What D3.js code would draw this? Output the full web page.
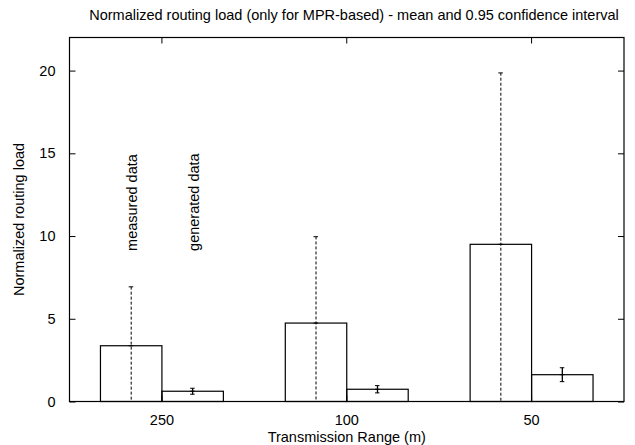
<!DOCTYPE html>
<html>
<head>
<meta charset="utf-8">
<script src="https://cdn.jsdelivr.net/npm/d3@7"></script>
<style>
  body { margin: 0; background: #fff; }
  text { font-family: "Liberation Sans", Arial, Helvetica, sans-serif; }
</style>
</head>
<body>
<div id="chart"></div>
<script>
// ranges on the x axis and the two series
const ranges = ["250", "100", "50"];
const seriesKeys = ["measured", "generated"];
const seriesLabels = ["measured data", "generated data"];

// means and half width of the 0.95 confidence interval
const measuredMean = [3.37, 4.74, 9.5];
const measuredErr = [3.56, 5.22, 10.36];
const generatedMean = [0.62, 0.74, 1.62];
const generatedErr = [0.18, 0.22, 0.42];

const yTicks = [0, 5, 10, 15, 20];

const width = 635, height = 445;
const marginTop = 37.5, marginRight = 11, marginBottom = 43.5, marginLeft = 69.5;
const fs = 14.5;

const data = ranges.map((r, i) => ({
  range: r,
  values: [
    { range: r, key: "measured", mean: measuredMean[i], err: measuredErr[i] },
    { range: r, key: "generated", mean: generatedMean[i], err: generatedErr[i] }
  ]
}));
const flat = data.flatMap(d => d.values);

const x = d3.scaleBand()
    .domain(ranges)
    .range([marginLeft, width - marginRight])
    .paddingInner(0.335)
    .paddingOuter(0.1675);

const xs = d3.scaleBand()
    .domain(seriesKeys)
    .range([0, x.bandwidth()]);

const cx = d => x(d.range) + xs(d.key) + xs.bandwidth() / 2;

const y = d3.scaleLinear()
    .domain([0, 22])
    .range([height - marginBottom, marginTop]);

const svg = d3.select("#chart").append("svg")
    .attr("width", width)
    .attr("height", height)
    .attr("viewBox", [0, 0, width, height]);

svg.append("defs").append("clipPath")
    .attr("id", "plot")
  .append("rect")
    .attr("x", marginLeft)
    .attr("y", marginTop)
    .attr("width", width - marginLeft - marginRight)
    .attr("height", height - marginTop - marginBottom);

// bars
svg.append("g")
  .selectAll("rect")
  .data(flat)
  .join("rect")
    .attr("x", d => x(d.range) + xs(d.key))
    .attr("y", d => y(d.mean))
    .attr("width", xs.bandwidth())
    .attr("height", d => y(0) - y(d.mean))
    .attr("fill", "none")
    .attr("stroke", "#000")
    .attr("stroke-width", 1.2);

// error bars, clipped to the plot area
const err = svg.append("g")
    .attr("clip-path", "url(#plot)")
  .selectAll("g")
  .data(flat)
  .join("g")
    .attr("transform", d => `translate(${cx(d)},0)`);

err.append("line")
    .attr("y1", d => y(d.mean - d.err))
    .attr("y2", d => y(d.mean + d.err))
    .attr("stroke", "#000")
    .attr("stroke-width", d => d.key === "measured" ? 1 : 1.3)
    .attr("stroke-dasharray", d => d.key === "measured" ? "3,2" : null);

err.selectAll("line.cap")
  .data(d => [d.mean - d.err, d.mean + d.err, d.mean])
  .join("line")
    .attr("class", "cap")
    .attr("x1", -2.5)
    .attr("x2", 2)
    .attr("y1", v => y(v))
    .attr("y2", v => y(v))
    .attr("stroke", "#000")
    .attr("stroke-width", 1);

// frame
svg.append("rect")
    .attr("x", marginLeft)
    .attr("y", marginTop)
    .attr("width", width - marginLeft - marginRight)
    .attr("height", height - marginTop - marginBottom)
    .attr("fill", "none")
    .attr("stroke", "#000")
    .attr("stroke-width", 1.2);

// y axis (ticks inward on both sides)
svg.append("g")
    .attr("transform", `translate(${marginLeft},0)`)
    .call(d3.axisLeft(y).tickValues(yTicks).tickSize(-6).tickPadding(14))
    .call(g => g.select(".domain").remove())
    .call(g => g.selectAll("text").attr("font-size", fs).attr("font-family", "Liberation Sans, Arial, sans-serif"));

svg.append("g")
    .attr("transform", `translate(${width - marginRight},0)`)
    .call(d3.axisRight(y).tickValues(yTicks).tickSize(-6).tickFormat(""))
    .call(g => g.select(".domain").remove());

// x axis
svg.append("g")
    .attr("transform", `translate(0,${height - marginBottom})`)
    .call(d3.axisBottom(x).tickSize(-6).tickPadding(13))
    .call(g => g.select(".domain").remove())
    .call(g => g.selectAll("text").attr("font-size", fs).attr("font-family", "Liberation Sans, Arial, sans-serif"));

svg.append("g")
    .attr("transform", `translate(0,${marginTop})`)
    .call(d3.axisTop(x).tickSize(-6).tickFormat(""))
    .call(g => g.select(".domain").remove());

// rotated series labels
svg.append("g")
  .selectAll("text")
  .data(seriesKeys)
  .join("text")
    .attr("transform", d => `translate(${x(ranges[0]) + xs(d) + xs.bandwidth() / 2 + 1},${y(9.1)}) rotate(-90)`)
    .attr("dy", "0.35em")
    .attr("font-size", fs)
    .text((d, i) => seriesLabels[i]);

// title and axis labels
svg.append("text")
    .attr("x", 354)
    .attr("y", 20)
    .attr("text-anchor", "middle")
    .attr("font-size", fs)
    .text("Normalized routing load (only for MPR-based) - mean and 0.95 confidence interval");

svg.append("text")
    .attr("x", (marginLeft + width - marginRight) / 2)
    .attr("y", 442)
    .attr("text-anchor", "middle")
    .attr("font-size", fs)
    .text("Transmission Range (m)");

svg.append("text")
    .attr("transform", `translate(24,${(marginTop + height - marginBottom) / 2}) rotate(-90)`)
    .attr("text-anchor", "middle")
    .attr("font-size", fs)
    .text("Normalized routing load");
</script>
</body>
</html>
